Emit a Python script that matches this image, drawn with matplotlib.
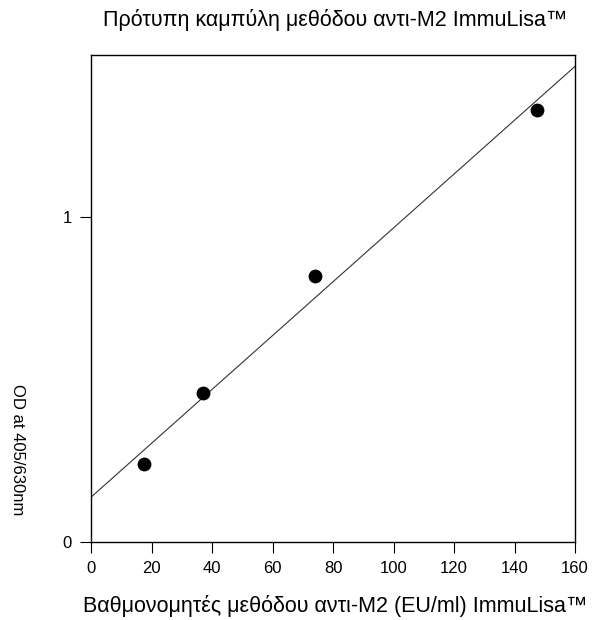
import matplotlib
matplotlib.use("Agg")
import matplotlib.pyplot as plt

plt.rcParams['font.family'] = ['Liberation Sans', 'DejaVu Sans']

# calibrator concentrations (EU/ml) and measured OD
conc = [17.5, 37, 74, 147.4]
od = [0.24, 0.46, 0.82, 1.332]

# regression line end points
fit_x = [0, 160]
fit_y = [0.138, 1.465]

x_ticks = [0, 20, 40, 60, 80, 100, 120, 140, 160]
y_ticks = [0, 1]

fig = plt.figure(figsize=(6.06, 6.2), dpi=100)
ax = fig.add_axes([91 / 606, 1 - 542 / 620, (575 - 91) / 606, (542 - 55) / 620])

ax.plot(fit_x, fit_y, color='#333333', linewidth=0.8)
ax.scatter(conc, od, s=80, color='black', marker='o', zorder=3)

ax.set_xlim(0, 160)
ax.set_ylim(0, 1.5)
ax.set_xticks(x_ticks)
ax.set_yticks(y_ticks)
ax.tick_params(direction='out', length=8, width=0.8, labelsize=12, pad=6)

for s in ax.spines.values():
    s.set_linewidth(1.0)

fig.text(335 / 606, 1 - 20 / 620, 'Πρότυπη καμπύλη μεθόδου αντι-M2 ImmuLisa™',
         fontsize=15.5, ha='center', va='center')
fig.text(335 / 606, 1 - 606 / 620, 'Βαθμονομητές μεθόδου αντι-M2 (EU/ml) ImmuLisa™',
         fontsize=15.5, ha='center', va='center')
fig.text(17 / 606, 1 - 450 / 620, 'OD at 405/630nm',
         fontsize=12, rotation=270, ha='center', va='center')

fig.savefig('out.png', dpi=100)
